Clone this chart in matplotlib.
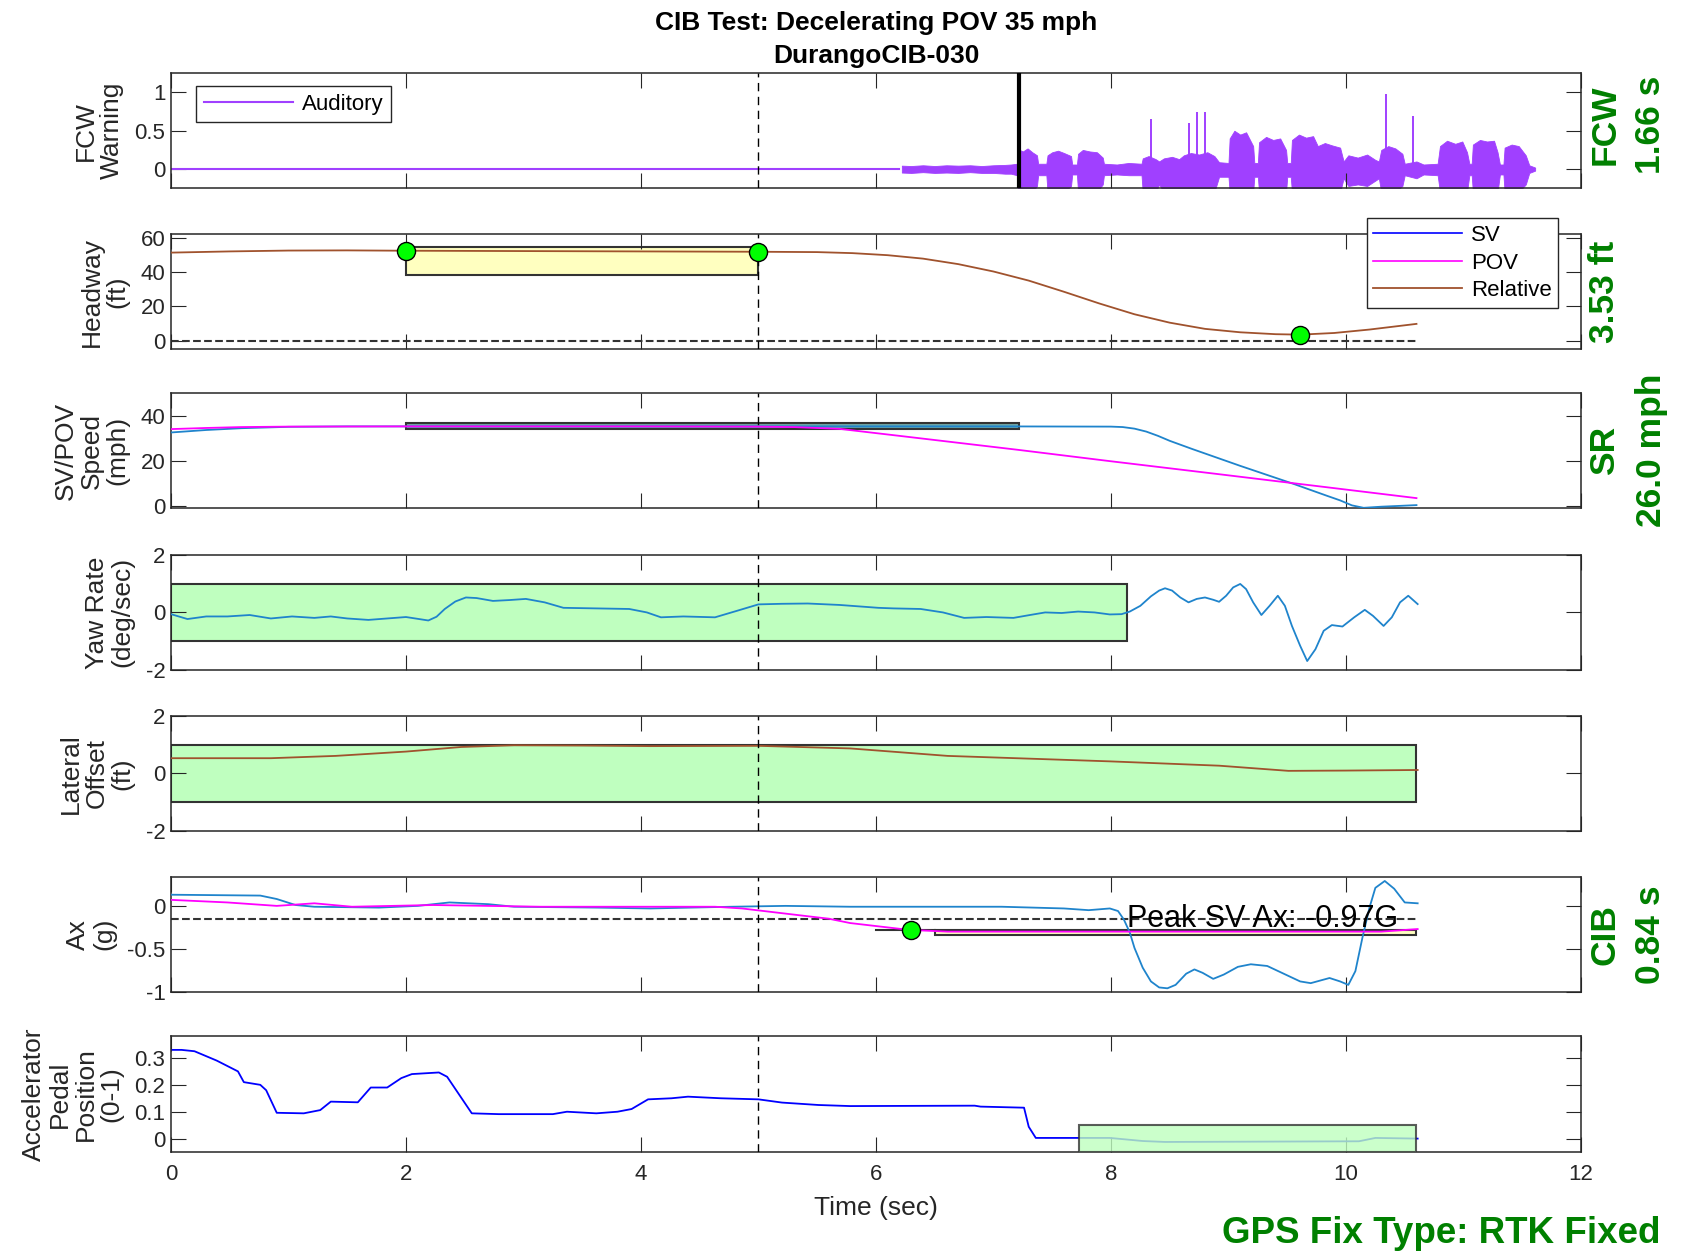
import matplotlib.pyplot as plt
from matplotlib.patches import Rectangle

plt.rcParams['font.family'] = ['Liberation Sans', 'DejaVu Sans']
plt.rcParams['axes.unicode_minus'] = False

# ---- data ----
t_end = 10.6

# FCW warning (auditory): flat line, then the envelope of the recorded tone
fcw_flat_end = 6.2
fcw_time = 7.22
env_t = [6.22, 6.30, 6.40, 6.50, 6.60, 6.70, 6.80, 6.90, 7.00, 7.10, 7.15, 7.20, 7.21, 7.25, 7.29,
         7.33, 7.37, 7.38, 7.45,
         7.46, 7.50, 7.55, 7.60, 7.66, 7.67, 7.71, 7.72, 7.76, 7.82, 7.88, 7.93, 7.94, 8.05,
         8.15, 8.26, 8.27, 8.32, 8.38, 8.41, 8.45, 8.52, 8.58, 8.62, 8.68, 8.75, 8.82, 8.88,
         8.92, 9.00, 9.01, 9.05, 9.10, 9.15, 9.21, 9.22, 9.25, 9.26, 9.32, 9.38, 9.44, 9.49,
         9.50, 9.53, 9.54, 9.60, 9.66, 9.72, 9.76, 9.82, 9.88, 9.95, 9.98, 10.02, 10.10, 10.18,
         10.25, 10.28, 10.30, 10.36, 10.42, 10.48, 10.50, 10.60, 10.66, 10.78, 10.80, 10.86, 10.93,
         10.99, 11.03, 11.05, 11.07, 11.08, 11.14, 11.20, 11.26, 11.29, 11.31, 11.34, 11.35, 11.41,
         11.47, 11.53, 11.56, 11.61]
env_hi = [0.045, 0.04, 0.05, 0.04, 0.05, 0.045, 0.05, 0.04, 0.05, 0.055, 0.06, 0.07, 0.26, 0.23, 0.27,
          0.22, 0.18, 0.07, 0.07,
          0.18, 0.22, 0.24, 0.21, 0.17, 0.06, 0.06, 0.20, 0.25, 0.23, 0.22, 0.15, 0.07, 0.06,
          0.08, 0.07, 0.14, 0.17, 0.13, 0.10, 0.14, 0.16, 0.13, 0.18, 0.21, 0.19, 0.22, 0.17,
          0.09, 0.08, 0.40, 0.50, 0.45, 0.48, 0.30, 0.08, 0.08, 0.35, 0.42, 0.38, 0.40, 0.25,
          0.08, 0.08, 0.38, 0.45, 0.41, 0.43, 0.30, 0.34, 0.31, 0.28, 0.10, 0.18, 0.15, 0.19,
          0.12, 0.10, 0.25, 0.30, 0.27, 0.20, 0.07, 0.10, 0.06, 0.07, 0.30, 0.37, 0.33,
          0.36, 0.22, 0.07, 0.07, 0.32, 0.38, 0.36, 0.37, 0.22, 0.06, 0.06, 0.28, 0.32,
          0.30, 0.18, 0.05, 0.02]
env_lo = [-0.045, -0.05, -0.04, -0.05, -0.045, -0.05, -0.04, -0.05, -0.05, -0.06, -0.06, -0.08, -0.3, -0.3, -0.3,
          -0.3, -0.22, -0.08, -0.08,
          -0.3, -0.3, -0.3, -0.3, -0.22, -0.07, -0.07, -0.3, -0.3, -0.3, -0.3, -0.2, -0.08, -0.07,
          -0.08, -0.08, -0.3, -0.3, -0.3, -0.2, -0.3, -0.3, -0.3, -0.3, -0.3, -0.3, -0.3, -0.3,
          -0.1, -0.1, -0.3, -0.3, -0.3, -0.3, -0.3, -0.1, -0.1, -0.3, -0.3, -0.3, -0.3, -0.3,
          -0.1, -0.1, -0.3, -0.3, -0.3, -0.3, -0.3, -0.3, -0.3, -0.3, -0.12, -0.22, -0.2, -0.22,
          -0.15, -0.12, -0.3, -0.3, -0.3, -0.22, -0.08, -0.12, -0.07, -0.08, -0.3, -0.3, -0.3,
          -0.3, -0.3, -0.08, -0.08, -0.3, -0.3, -0.3, -0.3, -0.3, -0.07, -0.07, -0.3, -0.3,
          -0.3, -0.2, -0.05, -0.02]
spike_t = [8.34, 8.66, 8.73, 8.80, 10.34, 10.57]
spike_v = [0.65, 0.60, 0.75, 0.75, 0.98, 0.69]

# headway
hw_t = [0, 0.5, 1, 1.5, 2, 3, 4, 5, 5.5, 5.8, 6.1, 6.4, 6.7, 7.0, 7.3, 7.6, 7.9, 8.2, 8.5, 8.8,
        9.1, 9.4, 9.61, 9.9, 10.2, 10.6]
hw_v = [51.3, 52.0, 52.5, 52.6, 52.4, 52.2, 52.0, 51.8, 51.6, 51.0, 49.8, 47.8, 44.6, 40.3, 35.0, 28.5,
        21.7, 15.4, 10.5, 6.9, 4.9, 3.8, 3.53, 4.5, 6.5, 9.8]
hw_dot_t = [2, 5, 9.61]
hw_dot_v = [52.4, 51.8, 3.53]
hw_box = [2, 5, 38, 54.5]

# speed
sv_t = [0, 0.3, 0.6, 1.0, 1.5, 2, 3, 4, 5, 6, 7, 8.0, 8.1, 8.2, 8.3, 8.4, 8.5, 8.69, 9.1, 9.56,
        9.84, 9.95, 10.05, 10.15, 10.3, 10.6]
sv_v = [32.5, 33.6, 34.4, 35.0, 35.2, 35.2, 35.2, 35.2, 35.2, 35.2, 35.2, 35.1, 34.9, 34.2, 32.9, 31.0,
        28.8, 25.2, 17.7, 9.6, 4.4, 2.4, 0.2, -0.9, -0.4, 0.3]
pov_t = [0, 0.3, 0.6, 1.0, 2, 3, 4, 5, 5.3, 5.69, 6.2, 7.21, 7.99, 8.92, 9.84, 10.6]
pov_v = [34.0, 34.5, 34.9, 35.1, 35.2, 35.2, 35.2, 35.1, 34.9, 34.1, 31.0, 24.8, 19.8, 14.0, 8.2, 3.4]
speed_box = [2, 7.22, 34.2, 36.6]

# yaw rate
yaw_t = [0, 0.14, 0.30, 0.48, 0.67, 0.85, 1.03, 1.22, 1.36, 1.50, 1.68, 2.0, 2.19, 2.26, 2.33,
         2.42, 2.51, 2.6, 2.74, 2.88, 3.02, 3.18, 3.34, 3.62, 3.90, 4.05, 4.17, 4.36, 4.63, 4.82,
         5.0, 5.2, 5.42, 5.69, 6.02, 6.15, 6.38, 6.57, 6.75, 6.94, 7.17, 7.31, 7.44, 7.58, 7.72,
         7.86, 7.99, 8.09, 8.16, 8.25, 8.34, 8.41, 8.46, 8.52, 8.59, 8.66, 8.73, 8.80, 8.87, 8.92,
         8.98, 9.04, 9.10, 9.15, 9.21, 9.28, 9.35, 9.42, 9.48, 9.54, 9.61, 9.67, 9.74, 9.81, 9.88,
         9.97, 10.07, 10.16, 10.23, 10.32, 10.39, 10.46, 10.53, 10.61]
yaw_v = [-0.06, -0.23, -0.14, -0.14, -0.09, -0.21, -0.14, -0.19, -0.14, -0.21, -0.26, -0.16, -0.28, -0.15, 0.12,
         0.38, 0.52, 0.50, 0.40, 0.43, 0.47, 0.35, 0.16, 0.14, 0.12, 0.0, -0.17, -0.14, -0.17, 0.06,
         0.28, 0.30, 0.31, 0.26, 0.16, 0.14, 0.12, 0.0, -0.19, -0.16, -0.19, -0.09, 0.0, -0.02, 0.03,
         0.0, -0.07, -0.06, 0.03, 0.23, 0.56, 0.76, 0.84, 0.76, 0.52, 0.35, 0.47, 0.52, 0.44, 0.37,
         0.58, 0.87, 0.99, 0.81, 0.35, -0.09, 0.23, 0.58, 0.23, -0.47, -1.16, -1.69, -1.28, -0.64, -0.44,
         -0.49, -0.17, 0.09, -0.12, -0.47, -0.17, 0.35, 0.58, 0.29]
yaw_box = [0, 8.14, -1, 1]

# lateral offset
lat_t = [0, 0.85, 1.4, 2.0, 2.47, 2.92, 3.5, 4.08, 5.0, 5.78, 6.61, 7.99, 8.92, 9.51, 10.0, 10.61]
lat_v = [0.53, 0.53, 0.61, 0.76, 0.92, 0.98, 0.97, 0.95, 0.96, 0.87, 0.61, 0.42, 0.27, 0.09, 0.10, 0.12]
lat_box = [0, 10.6, -1, 1]

# longitudinal acceleration
axsv_t = [0, 0.76, 0.9, 1.06, 1.22, 1.77, 2.1, 2.37, 2.7, 2.92, 3.62, 4.08, 4.77, 5.23, 5.78, 7.07,
          7.6, 7.81, 7.99, 8.06, 8.11, 8.16, 8.20, 8.27, 8.34, 8.41, 8.48, 8.55, 8.64, 8.71, 8.78,
          8.87, 8.96, 9.08, 9.19, 9.33, 9.47, 9.61, 9.70, 9.86, 9.95, 10.02, 10.08, 10.14, 10.20,
          10.25, 10.33, 10.41, 10.50, 10.61]
axsv_v = [0.13, 0.12, 0.08, 0.01, -0.01, -0.02, 0.0, 0.04, 0.02, -0.01, -0.02, -0.03, -0.01, 0.0, -0.01, -0.01,
          -0.03, -0.05, -0.03, -0.06, -0.16, -0.31, -0.49, -0.72, -0.88, -0.95, -0.96, -0.92, -0.79, -0.74, -0.78,
          -0.85, -0.80, -0.71, -0.68, -0.70, -0.79, -0.88, -0.90, -0.84, -0.88, -0.92, -0.76, -0.37, -0.02,
          0.21, 0.29, 0.20, 0.04, 0.03]
axpov_t = [0, 0.48, 0.9, 1.22, 1.54, 2.23, 3.15, 4.63, 4.86, 5.23, 5.6, 5.78, 6.22, 6.3, 6.61, 7.99, 9.84, 10.3, 10.61]
axpov_v = [0.07, 0.04, 0.0, 0.03, -0.01, 0.01, -0.01, -0.01, -0.03, -0.09, -0.15, -0.2, -0.27, -0.28, -0.30, -0.30, -0.30, -0.30, -0.27]
ax_thresh = -0.15
cib_dot = [6.3, -0.28]
cib_line = [6.0, 6.5, -0.28]
ax_box = [6.5, 10.6, -0.335, -0.28]
peak_label = 'Peak SV Ax: -0.97G'

# accelerator pedal
ped_t = [0, 0.09, 0.2, 0.39, 0.57, 0.62, 0.76, 0.81, 0.9, 1.13, 1.27, 1.36, 1.59, 1.7, 1.84, 1.96, 2.05,
         2.28, 2.35, 2.56, 2.79, 3.25, 3.37, 3.62, 3.8, 3.92, 4.06, 4.26, 4.4, 4.68, 5.0, 5.2, 5.51, 5.78,
         6.84, 6.89, 7.26, 7.3, 7.36, 7.99, 8.27, 8.46, 10.11, 10.25, 10.61]
ped_v = [0.33, 0.33, 0.325, 0.29, 0.25, 0.21, 0.20, 0.18, 0.096, 0.094, 0.106, 0.1375, 0.135, 0.19, 0.19, 0.225, 0.24,
         0.246, 0.23, 0.094, 0.091, 0.091, 0.1, 0.094, 0.1, 0.11, 0.146, 0.15, 0.156, 0.15, 0.146, 0.134, 0.125, 0.121,
         0.1225, 0.119, 0.115, 0.044, 0.0025, 0.0025, -0.009, -0.0125, -0.01, 0.0025, 0.0]
ped_box = [7.73, 10.6, -0.05, 0.049]

# labels
ylabels = ['FCW\nWarning', 'Headway\n(ft)', 'SV/POV\nSpeed\n(mph)', 'Yaw Rate\n(deg/sec)',
           'Lateral\nOffset\n(ft)', 'Ax\n(g)', 'Accelerator\nPedal\nPosition\n(0-1)']
ylims = [(-0.25, 1.25), (-5, 62), (-1, 50), (-2, 2), (-2, 2), (-1.0, 0.34), (-0.048, 0.38)]
yticks = [[0, 0.5, 1], [0, 20, 40, 60], [0, 20, 40], [-2, 0, 2], [-2, 0, 2], [-1, -0.5, 0], [0, 0.1, 0.2, 0.3]]
yticklabels = [['0', '0.5', '1'], ['0', '20', '40', '60'], ['0', '20', '40'], ['-2', '0', '2'],
               ['-2', '0', '2'], ['-1', '-0.5', '0'], ['0', '0.1', '0.2', '0.3']]
xticks = [0, 2, 4, 6, 8, 10, 12]
side_notes = [('FCW', '1.66 s'), ('3.53 ft', ''), ('SR', '26.0 mph'), None, None, ('CIB', '0.84 s'), None]

SV_BLUE = '#1f84cc'
PURPLE = '#a040ff'
BROWN = '#a0522d'
MAGENTA = '#ff00ff'
LGREEN = '#bfffbf'
LYELLOW = '#ffffc0'
DGREEN = '#008000'
EDGE = '#262626'


def box(ax, b, color, z=1, alpha=1.0):
    ax.add_patch(Rectangle((b[0], b[2]), b[1] - b[0], b[3] - b[2], facecolor=color,
                           edgecolor='#333333', lw=1.5, zorder=z, alpha=alpha))


def main():
    fig = plt.figure(figsize=(16.88, 12.56), dpi=100)
    bottoms = [0.8501, 0.7219, 0.5955, 0.4666, 0.3384, 0.2104, 0.0832]
    axes = []
    for i in range(7):
        ax = fig.add_axes([0.1013, bottoms[i], 0.8353, 0.0916])
        ax.set_xlim(0, 12)
        ax.set_ylim(*ylims[i])
        ax.set_xticks(xticks)
        ax.set_yticks(yticks[i])
        ax.set_yticklabels(yticklabels[i])
        ax.tick_params(direction='in', length=10.5, width=0.8, top=True, right=True,
                       labelsize=16, color=EDGE, labelcolor='#262626', pad=4)
        ax.tick_params(axis='x', pad=9)
        if i < 6:
            ax.tick_params(labelbottom=False)
        ax.set_ylabel(ylabels[i], fontsize=19, linespacing=1.1, labelpad=8, color='#262626')
        for s in ax.spines.values():
            s.set_color(EDGE)
            s.set_linewidth(1.1)
        ax.axvline(5, color='k', ls='--', lw=1.0, dashes=(6, 4), zorder=6)
        axes.append(ax)

    # FCW warning
    ax = axes[0]
    ax.plot([0, fcw_flat_end], [0, 0], color=PURPLE, lw=1.5, label='Auditory')
    ax.fill_between(env_t, env_lo, env_hi, color=PURPLE, lw=0.6, edgecolor=PURPLE)
    ax.vlines(spike_t, 0, spike_v, color=PURPLE, lw=1.4)
    ax.axvline(fcw_time, color='k', lw=3, zorder=7)
    ax.legend(loc='upper left', bbox_to_anchor=(0.0177, 0.89), borderaxespad=0, fontsize=16,
              fancybox=False, edgecolor=EDGE, framealpha=1, handlelength=4, handletextpad=0.4,
              borderpad=0.35)

    # headway
    ax = axes[1]
    box(ax, hw_box, LYELLOW, z=1)
    ax.plot([], [], color='#0000ff', lw=1.2, label='SV')
    ax.plot([], [], color=MAGENTA, lw=1.2, label='POV')
    ax.plot(hw_t, hw_v, color=BROWN, lw=1.3, label='Relative', zorder=3)
    ax.hlines(0, 0, t_end, color='#333333', ls='--', lw=1.5, zorder=2)
    ax.plot(hw_dot_t, hw_dot_v, 'o', color='#00ff00', mec='k', ms=13, mew=1, zorder=8)
    ax.legend(loc='upper right', bbox_to_anchor=(0.984, 1.139), borderaxespad=0, fontsize=16,
              fancybox=False, edgecolor=EDGE, framealpha=1, handlelength=4, handletextpad=0.4,
              borderpad=0.3, labelspacing=0.3)

    # speed
    ax = axes[2]
    box(ax, speed_box, '#6fa8a8', z=2)
    ax.plot(sv_t, sv_v, color=SV_BLUE, lw=1.3, zorder=3)
    ax.plot(pov_t, pov_v, color=MAGENTA, lw=1.3, zorder=3)

    # yaw rate
    ax = axes[3]
    box(ax, yaw_box, LGREEN, z=1)
    ax.plot(yaw_t, yaw_v, color=SV_BLUE, lw=1.3, zorder=3)

    # lateral offset
    ax = axes[4]
    box(ax, lat_box, LGREEN, z=1)
    ax.plot(lat_t, lat_v, color=BROWN, lw=1.3, zorder=3)

    # acceleration
    ax = axes[5]
    box(ax, ax_box, LYELLOW, z=2)
    ax.plot(cib_line[:2], [cib_line[2]] * 2, color='#333333', lw=1.5, zorder=2)
    ax.plot(axsv_t, axsv_v, color=SV_BLUE, lw=1.3, zorder=3)
    ax.plot(axpov_t, axpov_v, color=MAGENTA, lw=1.3, zorder=3)
    ax.hlines(ax_thresh, 0, t_end, color='#333333', ls='--', lw=1.5, zorder=2)
    ax.plot(*cib_dot, 'o', color='#00ff00', mec='k', ms=13, mew=1, zorder=8)
    ax.text(8.14, ax_thresh, peak_label, fontsize=22, va='center', ha='left', zorder=9)

    # pedal
    ax = axes[6]
    ax.plot(ped_t, ped_v, color='#0000ff', lw=1.3, zorder=2)
    box(ax, ped_box, LGREEN, z=3, alpha=0.8)
    ax.set_xticklabels([str(v) for v in xticks])
    ax.set_xlabel('Time (sec)', fontsize=19, labelpad=8, color='#262626')

    # green side notes
    for i, (ax, note) in enumerate(zip(axes, side_notes)):
        if note is None:
            continue
        pos = ax.get_position()
        yc = (pos.y0 + pos.y1) / 2 + (6 / 1256 if i == 0 else 0)
        fig.text(1605 / 1688, yc, note[0], rotation=90, ha='center', va='center',
                 fontsize=25.5, fontweight='bold', color=DGREEN)
        if note[1]:
            fig.text(1651 / 1688, yc, note[1], rotation=90, ha='center', va='center',
                     fontsize=25.5, fontweight='bold', color=DGREEN)

    fig.text(0.519, 1 - 30 / 1256, 'CIB Test: Decelerating POV 35 mph', ha='center',
             va='baseline', fontsize=19, fontweight='bold')
    fig.text(0.519, 1 - 63 / 1256, 'DurangoCIB-030', ha='center', va='baseline',
             fontsize=19, fontweight='bold')
    fig.text(1660 / 1688, 1 - 1243 / 1256, 'GPS Fix Type: RTK Fixed', ha='right',
             va='baseline', fontsize=26.5, fontweight='bold', color=DGREEN)

    fig.savefig('out.png', dpi=100)


if __name__ == "__main__":
    main()
